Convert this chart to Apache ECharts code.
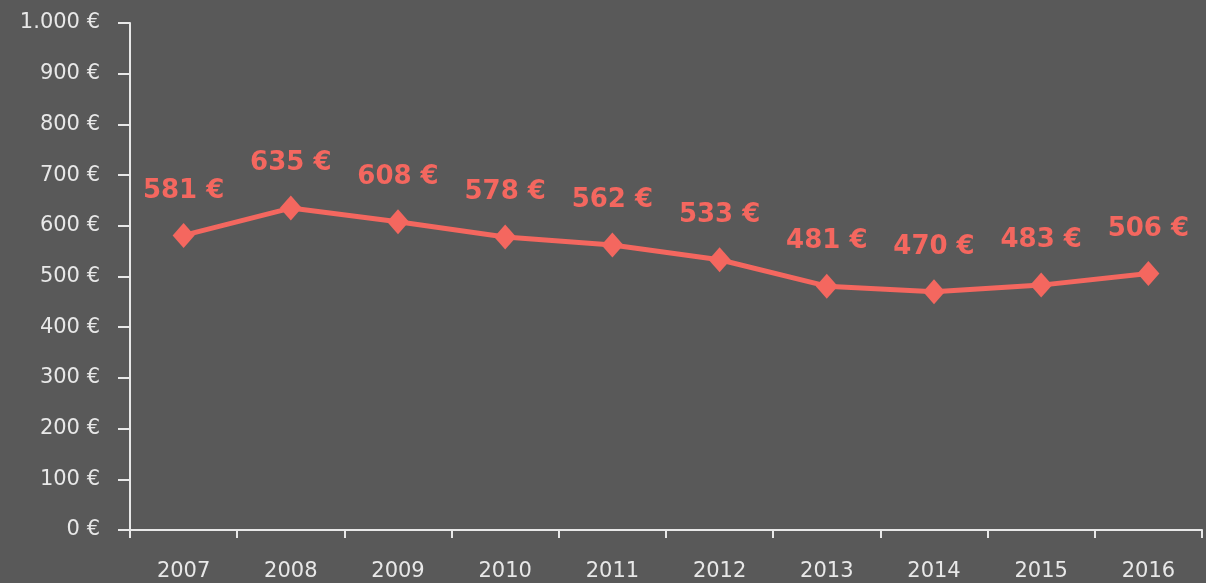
<!DOCTYPE html>
<html><head><meta charset="utf-8">
<script src="https://cdn.jsdelivr.net/npm/echarts@6/dist/echarts.min.js"></script>
<style>html,body{margin:0;padding:0;background:#595959}#c{width:1206px;height:583px}</style>
</head><body><div id="c"></div>
<script>
const years = ['2007','2008','2009','2010','2011','2012','2013','2014','2015','2016'];
const prices = [581, 635, 608, 578, 562, 533, 481, 470, 483, 506];
const yTicks = [0, 100, 200, 300, 400, 500, 600, 700, 800, 900, 1000];

function fmt(v){
  const s = String(v).replace(/\B(?=(\d{3})+(?!\d))/g, '.');
  return s + ' €';
}
const axisColor = '#e8e8e8';
const red = '#f4675f';
const chart = echarts.init(document.getElementById('c'), null, {renderer:'canvas'});
chart.setOption({
  backgroundColor: '#595959',
  animation: false,
  grid: {left: 130, right: 4, top: 23, bottom: 53, containLabel: false},
  xAxis: {
    type: 'category', data: years, boundaryGap: true,
    axisLine: {lineStyle: {color: axisColor, width: 2}},
    axisTick: {show: true, length: 8, lineStyle: {color: axisColor, width: 2}, alignWithLabel: false},
    axisLabel: {color: axisColor, fontFamily: 'DejaVu Sans', fontSize: 21, margin: 31}
  },
  yAxis: {
    type: 'value', min: yTicks[0], max: yTicks[yTicks.length-1], interval: 100,
    splitLine: {show: false},
    axisLine: {show: true, lineStyle: {color: axisColor, width: 2}},
    axisTick: {show: true, length: 12, lineStyle: {color: axisColor, width: 2}},
    axisLabel: {color: axisColor, fontFamily: 'DejaVu Sans', fontSize: 21, margin: 30, formatter: fmt}
  },
  series: [{
    type: 'line', data: prices,
    symbol: 'diamond', symbolSize: [22, 25],
    lineStyle: {color: red, width: 5},
    itemStyle: {color: red},
    label: {show: true, position: 'top', distance: 19, color: red, fontFamily: 'DejaVu Sans', fontWeight: 'bold', fontSize: 26, formatter: p => fmt(p.value)}
  }]
});
</script></body></html>
